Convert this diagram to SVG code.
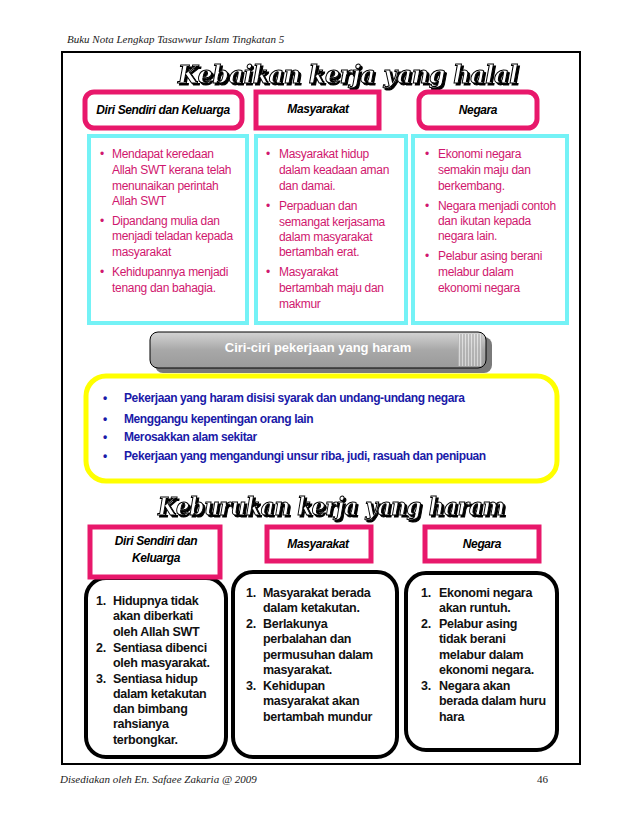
<svg xmlns="http://www.w3.org/2000/svg" width="638" height="826" viewBox="0 0 638 826">
<defs>
<linearGradient id="gb" x1="0" y1="0" x2="0" y2="1">
<stop offset="0" stop-color="#d4d4d4"/>
<stop offset="0.5" stop-color="#a8a8a8"/>
<stop offset="1" stop-color="#9a9a9a"/>
</linearGradient>
<pattern id="stripes" width="3" height="10" patternUnits="userSpaceOnUse">
<rect width="3" height="10" fill="#b8b8b8"/>
<rect width="1" height="10" fill="#eeeeee"/>
</pattern>
<filter id="sh" x="-5%" y="-20%" width="110%" height="150%">
<feDropShadow dx="2" dy="2" stdDeviation="0.4" flood-color="#000" flood-opacity="1"/>
</filter>
</defs>
<style>
.hdr{font-family:"Liberation Serif","DejaVu Serif",serif;font-style:italic;font-size:11px;fill:#222}
.title{font-family:"DejaVu Serif","Liberation Serif",serif;font-weight:bold;font-style:italic;font-size:25px;fill:#fff;stroke:#000;stroke-width:1.1px;filter:url(#sh)}
.pinkbox{fill:#fff;stroke:#e8186b;stroke-width:5}
.cyanbox{fill:#fff;stroke:#74f2f6;stroke-width:4}
.lab{font-family:"Liberation Sans",Arial,sans-serif;font-weight:bold;font-style:italic;font-size:12px;fill:#000;text-anchor:middle;letter-spacing:-0.4px}
.pk{font-family:"Liberation Sans",Arial,sans-serif;font-size:12px;fill:#d0176e;letter-spacing:-0.3px}
.bl{font-family:"Liberation Sans",Arial,sans-serif;font-weight:bold;font-size:12px;fill:#1a1aa8;letter-spacing:-0.4px}
.bk{font-family:"Liberation Sans",Arial,sans-serif;font-weight:bold;font-size:12.5px;fill:#111;letter-spacing:-0.3px}
.blackbox{fill:#fff;stroke:#000;stroke-width:4}
</style>
<rect width="638" height="826" fill="#fff"/>
<text class="hdr" x="67" y="43">Buku Nota Lengkap Tasawwur Islam Tingkatan 5</text>
<rect x="62" y="52" width="518" height="712" fill="none" stroke="#000" stroke-width="2"/>

<g id="title1">
<text class="title" x="178" y="83" textLength="340" lengthAdjust="spacingAndGlyphs">Kebaikan kerja yang halal</text>
</g>

<g id="h-diri">
<rect class="pinkbox" x="85" y="92" width="157" height="36" rx="9"/>
<text class="lab" x="163" y="114">Diri Sendiri dan Keluarga</text>
</g>
<g id="h-masy">
<rect class="pinkbox" x="256" y="92" width="123" height="36"/>
<text class="lab" x="318" y="113">Masyarakat</text>
</g>
<g id="h-negara">
<rect class="pinkbox" x="419" y="92" width="118" height="36" rx="9"/>
<text class="lab" x="478" y="114">Negara</text>
</g>

<g id="c-diri">
<rect class="cyanbox" x="89" y="136" width="158" height="187"/>
<g class="pk">
<text x="100" y="158">•</text><text x="112" y="158">Mendapat keredaan</text>
<text x="112" y="174">Allah SWT  kerana  telah</text>
<text x="112" y="190">menunaikan perintah</text>
<text x="112" y="205">Allah SWT</text>
<text x="100" y="225">•</text><text x="112" y="225">Dipandang mulia dan</text>
<text x="112" y="240">menjadi teladan kepada</text>
<text x="112" y="256">masyarakat</text>
<text x="100" y="276">•</text><text x="112" y="276">Kehidupannya menjadi</text>
<text x="112" y="292">tenang dan bahagia.</text>
</g>
</g>
<g id="c-masy">
<rect class="cyanbox" x="256" y="136" width="150" height="187"/>
<g class="pk">
<text x="266" y="158">•</text><text x="279" y="158">Masyarakat hidup</text>
<text x="279" y="174">dalam keadaan aman</text>
<text x="279" y="190">dan damai.</text>
<text x="266" y="210">•</text><text x="279" y="210">Perpaduan dan</text>
<text x="279" y="226">semangat kerjasama</text>
<text x="279" y="241">dalam masyarakat</text>
<text x="279" y="256">bertambah erat.</text>
<text x="266" y="276">•</text><text x="279" y="276">Masyarakat</text>
<text x="279" y="292">bertambah maju dan</text>
<text x="279" y="308">makmur</text>
</g>
</g>
<g id="c-negara">
<rect class="cyanbox" x="413" y="136" width="154" height="187"/>
<g class="pk">
<text x="425" y="158">•</text><text x="438" y="158">Ekonomi negara</text>
<text x="438" y="174">semakin maju dan</text>
<text x="438" y="190">berkembang.</text>
<text x="425" y="210">•</text><text x="438" y="210">Negara menjadi contoh</text>
<text x="438" y="225">dan ikutan kepada</text>
<text x="438" y="240">negara lain.</text>
<text x="425" y="260">•</text><text x="438" y="260">Pelabur  asing  berani</text>
<text x="438" y="276">melabur  dalam</text>
<text x="438" y="292">ekonomi negara</text>
</g>
</g>

<g id="banner">
<rect x="155" y="337" width="337" height="36" rx="8" fill="#7a7a7a"/>
<rect x="150" y="332" width="336" height="36" rx="8" fill="url(#gb)" stroke="#000" stroke-width="1"/>
<rect x="458" y="334" width="24" height="32" fill="url(#stripes)" opacity="0.7"/>
<text x="318" y="352" font-family="'Liberation Sans',Arial,sans-serif" font-weight="bold" font-size="13" fill="#fff" text-anchor="middle">Ciri-ciri pekerjaan yang  haram</text>
</g>

<g id="ciri">
<rect x="86" y="376" width="471" height="105" rx="20" fill="#fff" stroke="#ffff00" stroke-width="5"/>
<g class="bl">
<text x="103" y="402">•</text><text x="124" y="402">Pekerjaan yang haram disisi syarak dan undang-undang negara</text>
<text x="103" y="423">•</text><text x="124" y="423">Menggangu kepentingan orang lain</text>
<text x="103" y="441">•</text><text x="124" y="441">Merosakkan alam sekitar</text>
<text x="103" y="460">•</text><text x="124" y="460">Pekerjaan yang mengandungi unsur riba, judi, rasuah dan penipuan</text>
</g>
</g>

<g id="title2">
<text class="title" x="158" y="515" textLength="347" lengthAdjust="spacingAndGlyphs">Keburukan kerja yang haram</text>
</g>

<g id="b-diri">
<rect class="blackbox" x="86" y="578" width="140" height="179" rx="20"/>
<rect class="pinkbox" x="90" y="527" width="130" height="50" stroke-width="6"/>
<text class="lab" x="156" y="545">Diri Sendiri dan</text>
<text class="lab" x="156" y="562">Keluarga</text>
<g class="bk">
<text x="96" y="605">1.</text><text x="113" y="605">Hidupnya tidak</text>
<text x="113" y="620">akan diberkati</text>
<text x="113" y="636">oleh Allah SWT</text>
<text x="96" y="652">2.</text><text x="113" y="652">Sentiasa dibenci</text>
<text x="113" y="667">oleh masyarakat.</text>
<text x="96" y="683">3.</text><text x="113" y="683">Sentiasa hidup</text>
<text x="113" y="698">dalam ketakutan</text>
<text x="113" y="713">dan bimbang</text>
<text x="113" y="728">rahsianya</text>
<text x="113" y="744">terbongkar.</text>
</g>
</g>
<g id="b-masy">
<rect class="pinkbox" x="267" y="527" width="104" height="34" stroke-width="6"/>
<text class="lab" x="318" y="548">Masyarakat</text>
<rect class="blackbox" x="233" y="572" width="164" height="185" rx="20"/>
<g class="bk">
<text x="246" y="597">1.</text><text x="263" y="597">Masyarakat berada</text>
<text x="263" y="612">dalam ketakutan.</text>
<text x="246" y="628">2.</text><text x="263" y="628">Berlakunya</text>
<text x="263" y="643">perbalahan dan</text>
<text x="263" y="659">permusuhan dalam</text>
<text x="263" y="674">masyarakat.</text>
<text x="246" y="690">3.</text><text x="263" y="690">Kehidupan</text>
<text x="263" y="705">masyarakat akan</text>
<text x="263" y="721">bertambah mundur</text>
</g>
</g>
<g id="b-negara">
<rect class="pinkbox" x="425" y="527" width="114" height="34" stroke-width="6"/>
<text class="lab" x="482" y="548">Negara</text>
<rect class="blackbox" x="406" y="573" width="151" height="177" rx="20"/>
<g class="bk">
<text x="421" y="597">1.</text><text x="439" y="597">Ekonomi negara</text>
<text x="439" y="612">akan runtuh.</text>
<text x="421" y="628">2.</text><text x="439" y="628">Pelabur asing</text>
<text x="439" y="643">tidak berani</text>
<text x="439" y="659">melabur dalam</text>
<text x="439" y="674">ekonomi negara.</text>
<text x="421" y="690">3.</text><text x="439" y="690">Negara akan</text>
<text x="439" y="705">berada dalam huru</text>
<text x="439" y="721">hara</text>
</g>
</g>

<text class="hdr" x="60" y="783">Disediakan oleh En. Safaee Zakaria @ 2009</text>
<text x="537" y="783" font-family="'Liberation Serif',serif" font-size="11" fill="#222">46</text>
</svg>
